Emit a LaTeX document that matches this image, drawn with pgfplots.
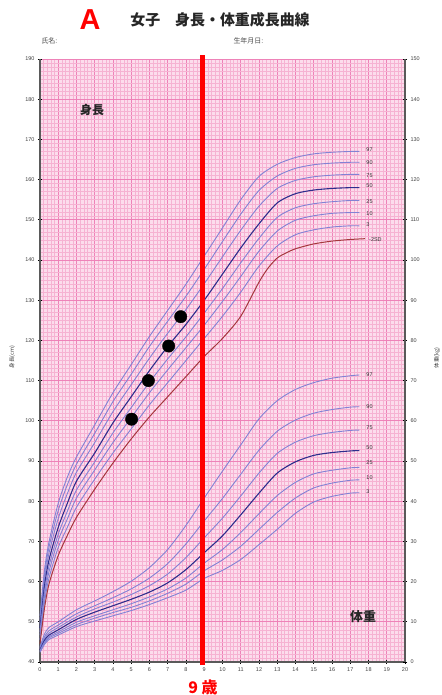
\documentclass[border=0pt]{standalone}
\usepackage{pgfplots}
\pgfplotsset{compat=1.18}
\usepackage{pgfplotstable}
\usepackage{fontspec}
\setmainfont{Liberation Sans}
\newfontfamily\jp{Noto Sans CJK JP}
\definecolor{bgpink}{RGB}{252,220,236}
\definecolor{minorpink}{RGB}{246,178,210}
\definecolor{majorpink}{RGB}{238,130,184}
\definecolor{pct}{RGB}{130,130,212}
\definecolor{med}{RGB}{45,45,140}
\definecolor{sd}{RGB}{165,55,60}
\definecolor{axgray}{RGB}{90,90,90}

\pgfplotstableread{
age  p97   p90   p75   p50   p25   p10   p3
0    51.5  50.6  49.6  48.5  47.5  46.6  45.5
0.25 63.0  61.8  60.5  59.0  57.6  56.4  55.0
0.5  70.0  68.7  67.2  65.5  64.0  62.6  61.0
1    79.5  77.7  75.7  73.5  71.8  70.3  68.5
1.5  86.0  84.1  81.9  79.5  77.5  75.6  73.5
2    91.0  89.2  87.2  85.0  82.8  80.8  78.5
3    99.0  96.9  94.6  92.0  89.8  87.8  85.5
4    107.0 104.8 102.3 99.5  97.0  94.6  92.0
5    114.0 111.6 109.0 106.0 103.3 100.8 98.0
6    121.0 118.5 115.6 112.5 109.6 107.0 104.0
7    127.5 124.8 121.8 118.5 115.4 112.7 109.5
8    134.0 131.0 127.7 124.0 120.9 118.2 115.0
9    141.0 137.7 134.1 130.0 126.8 123.8 120.5
10   148.0 144.6 140.8 136.5 132.9 129.7 126.0
11   155.0 151.4 147.4 143.0 139.3 135.9 132.0
12   160.8 157.3 153.4 149.0 145.4 142.2 138.5
13   163.8 160.9 157.8 154.2 150.6 147.2 143.5
14   165.5 162.8 159.8 156.5 153.0 149.9 146.3
15   166.4 163.7 160.7 157.4 154.0 151.0 147.5
16   166.8 164.1 161.1 157.8 154.5 151.6 148.2
17   167.0 164.3 161.3 158.0 154.8 151.8 148.5
17.5 167.0 164.3 161.3 158.0 154.8 151.8 148.5
}\htab

\pgfplotstableread{
age  h
0    44.5
0.25 53.5
0.5  59.5
1    66.5
1.5  71.5
2    76.0
3    83.0
4    89.5
5    95.5
6    101.0
7    106.0
8    111.0
9    116.0
10   120.5
11   126.0
12   134.5
12.5 138.0
13   140.5
13.5 141.8
14   142.8
15   144.0
16   144.7
17   145.1
17.8 145.3
}\sdtab

\pgfplotstableread{
age  w97  w90  w75  w50  w25  w10  w3
0    3.8  3.5  3.2  3.0  2.8  2.6  2.4
0.25 7.0  6.3  5.8  5.4  5.0  4.7  4.4
0.5  8.6  7.8  7.2  6.7  6.3  6.0  5.6
1    10.0 9.2  8.6  8.0  7.5  7.1  6.7
2    13.0 12.0 11.2 10.6 9.9  9.3  8.8
3    15.2 14.0 13.2 12.4 11.5 10.9 10.2
4    17.5 16.0 14.9 14.0 13.0 12.3 11.5
5    20.1 18.2 16.8 15.6 14.5 13.6 12.8
6    23.5 20.9 19.0 17.4 16.2 15.2 14.3
7    28.0 24.5 21.9 19.7 18.2 17.1 16.0
8    34.0 29.4 26.0 23.0 20.9 19.4 17.9
9    40.8 35.1 30.9 27.2 24.6 22.7 20.8
10   47.5 40.7 35.8 31.4 28.0 25.4 22.8
11   54.0 46.7 41.3 36.6 32.2 28.8 25.5
12   60.5 52.7 47.0 42.0 36.9 33.0 29.2
13   65.0 57.4 51.9 47.0 41.4 37.2 33.0
14   67.8 60.2 54.7 49.8 44.7 40.8 37.0
15   69.5 61.9 56.3 51.4 46.8 43.3 39.8
16   70.6 62.8 57.1 52.1 47.7 44.5 41.2
17   71.2 63.4 57.6 52.5 48.3 45.2 42.0
17.5 71.4 63.5 57.7 52.6 48.4 45.3 42.1
}\wtab

\pgfplotsset{
  common/.style={width=365bp, height=603bp, scale only axis, xmin=0, xmax=20},
  pline/.style={pct, line width=0.9bp, smooth, tension=0.45},
  mline/.style={med, line width=1.1bp, smooth, tension=0.45},
}
\tikzset{plabel/.style={anchor=west, font=\fontsize{5.5}{6}\selectfont, text=black!80, inner sep=0.5bp}}

\begin{document}
\begin{tikzpicture}
\begin{axis}[common, ymin=40, ymax=190,
  xtick={0,...,20}, ytick={40,50,...,190},
  minor x tick num=4, minor y tick num=9,
  grid=both,
  major grid style={majorpink, line width=0.7bp},
  minor grid style={minorpink, line width=0.4bp},
  axis background/.style={fill=bgpink},
  axis x line*=bottom, axis y line*=left,
  axis line style={axgray, line width=1.3bp, -},
  tick style={black, line width=0.6bp}, major tick length=4bp, minor tick length=0pt, tick align=center,
  tick label style={font=\fontsize{5.5}{6}\selectfont, text=black!75},
  /pgf/number format/assume math mode=true,
  clip=false]
\addplot[pline] table[x=age,y=p97]{\htab};
\addplot[pline] table[x=age,y=p90]{\htab};
\addplot[pline] table[x=age,y=p75]{\htab};
\addplot[mline] table[x=age,y=p50]{\htab};
\addplot[pline] table[x=age,y=p25]{\htab};
\addplot[pline] table[x=age,y=p10]{\htab};
\addplot[pline] table[x=age,y=p3]{\htab};
\addplot[sd, line width=1bp, smooth, tension=0.45] table[x=age,y=h]{\sdtab};
\node[plabel] at (axis cs:17.85,167.4) {97};
\node[plabel] at (axis cs:17.85,164.3) {90};
\node[plabel] at (axis cs:17.85,161.1) {75};
\node[plabel] at (axis cs:17.85,158.4) {50};
\node[plabel] at (axis cs:17.85,154.5) {25};
\node[plabel] at (axis cs:17.85,151.6) {10};
\node[plabel] at (axis cs:17.85,148.7) {3};
\node[plabel] at (axis cs:18.0,145.0) {-2SD};
\end{axis}

\begin{axis}[common, ymin=0, ymax=150,
  axis x line=none, axis y line*=right,
  ytick={0,10,...,150},
  axis line style={axgray, line width=1.3bp, -},
  tick style={black, line width=0.6bp}, major tick length=4bp, tick align=center,
  tick label style={font=\fontsize{5.5}{6}\selectfont, text=black!75},
  /pgf/number format/assume math mode=true,
  clip=false]
\addplot[pline] table[x=age,y=w97]{\wtab};
\addplot[pline] table[x=age,y=w90]{\wtab};
\addplot[pline] table[x=age,y=w75]{\wtab};
\addplot[mline] table[x=age,y=w50]{\wtab};
\addplot[pline] table[x=age,y=w25]{\wtab};
\addplot[pline] table[x=age,y=w10]{\wtab};
\addplot[pline] table[x=age,y=w3]{\wtab};
\node[plabel] at (axis cs:17.85,71.6) {97};
\node[plabel] at (axis cs:17.85,63.5) {90};
\node[plabel] at (axis cs:17.85,58.2) {75};
\node[plabel] at (axis cs:17.85,53.4) {50};
\node[plabel] at (axis cs:17.85,49.6) {25};
\node[plabel] at (axis cs:17.85,45.9) {10};
\node[plabel] at (axis cs:17.85,42.5) {3};
\end{axis}

\begin{axis}[common, ymin=40, ymax=190, hide axis, clip=false]
\addplot[red, line width=5bp] coordinates {(8.88,39.2) (8.88,191)};
\addplot[only marks, mark=*, mark size=6.2bp, black] coordinates {(5.02,100.4) (5.94,110.0) (7.05,118.6) (7.71,125.9)};
\end{axis}

\node[text=red, font=\fontsize{29}{30}\selectfont\bfseries] at (50bp,642bp) {A};
\node[font=\jp\bfseries\fontsize{15}{16}\selectfont, text=black!85] at (180bp,642bp) {女子\hspace{15bp}身長・体重成長曲線};
\node[anchor=west, font=\jp\fontsize{7}{8}\selectfont, text=black!70] at (-2bp,621bp) {氏名:};
\node[anchor=west, font=\jp\fontsize{7}{8}\selectfont, text=black!70] at (190bp,621bp) {生年月日:};
\node[font=\jp\bfseries\fontsize{12}{13}\selectfont, text=black!85] at (52bp,552bp) {身長};
\node[font=\jp\bfseries\fontsize{13}{14}\selectfont, text=black!85] at (323bp,45bp) {体重};
\node[rotate=90, font=\jp\fontsize{5.5}{6}\selectfont, text=black!75] at (-28bp,305bp) {身長(cm)};
\node[rotate=90, font=\jp\fontsize{5.5}{6}\selectfont, text=black!75] at (397bp,304bp) {体重(kg)};
\node[text=red, font=\jp\bfseries\fontsize{16}{17}\selectfont] at (163bp,-25bp) {9 歳};
\pgfresetboundingbox
\path[use as bounding box] (-40bp,-33bp) rectangle (402bp,662bp);
\end{tikzpicture}
\end{document}
